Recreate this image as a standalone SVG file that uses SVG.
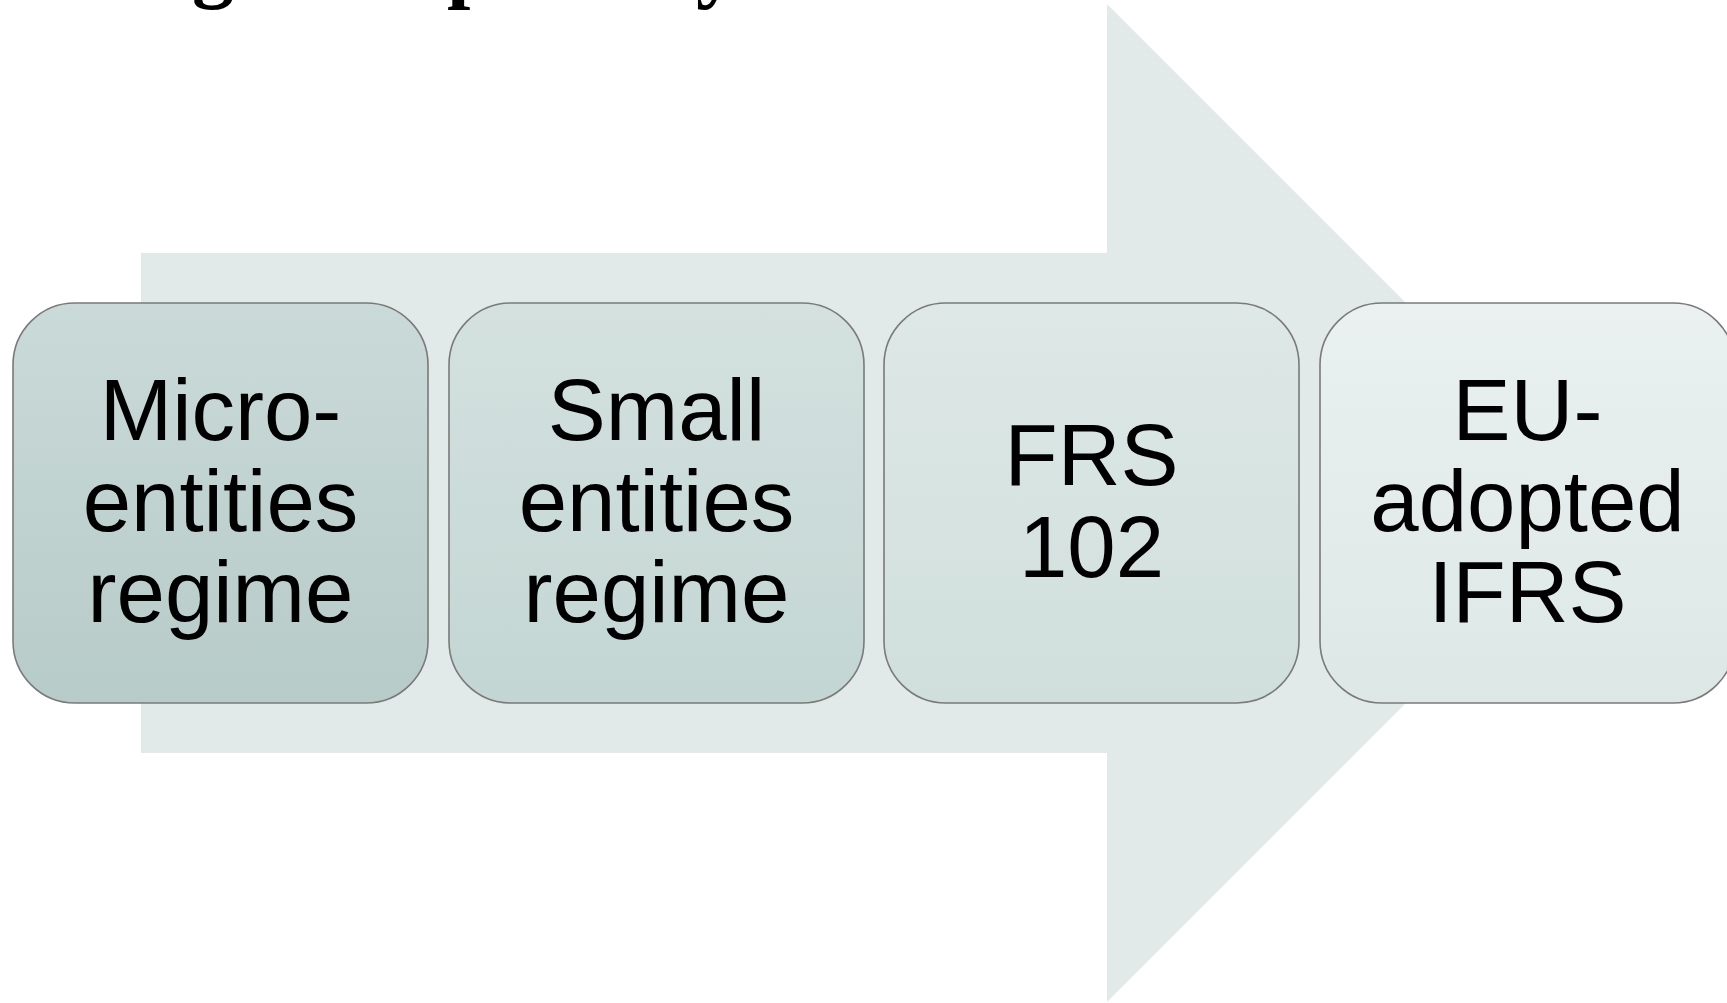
<svg xmlns="http://www.w3.org/2000/svg" width="1727" height="1003" viewBox="0 0 1727 1003">
  <style>
    .box { stroke: #7a7a7a; stroke-width: 1.6; }
    .label { font-family: "Liberation Sans", Arial, sans-serif; font-size: 87px; fill: #000; text-anchor: middle; }
    .heading { font-family: "Liberation Serif", "Times New Roman", serif; font-weight: bold; font-size: 84px; fill: #000; }
  </style>
  <defs>
    <linearGradient id="g1" x1="0" y1="0" x2="0" y2="1">
      <stop offset="0" stop-color="#cadad8"/>
      <stop offset="1" stop-color="#b7cbc8"/>
    </linearGradient>
    <linearGradient id="g2" x1="0" y1="0" x2="0" y2="1">
      <stop offset="0" stop-color="#d4e1df"/>
      <stop offset="1" stop-color="#c3d6d3"/>
    </linearGradient>
    <linearGradient id="g3" x1="0" y1="0" x2="0" y2="1">
      <stop offset="0" stop-color="#dee8e6"/>
      <stop offset="1" stop-color="#d0dfdc"/>
    </linearGradient>
    <linearGradient id="g4" x1="0" y1="0" x2="0" y2="1">
      <stop offset="0" stop-color="#eaf1f0"/>
      <stop offset="1" stop-color="#dde8e6"/>
    </linearGradient>
  </defs>

  <rect width="1727" height="1003" fill="#ffffff"/>

  <!-- heading line, clipped by the top edge -->
  <g id="heading">
    <text class="heading" x="192" y="-8">g</text>
    <text class="heading" x="447" y="-8">p</text>
    <text class="heading" x="696" y="-8">y</text>
  </g>

  <!-- background block arrow -->
  <g id="connectors">
    <polygon points="141,253 1107,253 1107,4 1606,503 1107,1002 1107,753 141,753" fill="#e1eae8"/>
  </g>

  <g id="node-micro">
    <rect class="box" x="13" y="303" width="415" height="400" rx="62" ry="62" fill="url(#g1)"/>
    <text class="label" x="220.5" y="440">Micro-</text>
    <text class="label" x="220.5" y="531">entities</text>
    <text class="label" x="220.5" y="622">regime</text>
  </g>

  <g id="node-small">
    <rect class="box" x="449" y="303" width="415" height="400" rx="62" ry="62" fill="url(#g2)"/>
    <text class="label" x="656.5" y="440">Small</text>
    <text class="label" x="656.5" y="531">entities</text>
    <text class="label" x="656.5" y="622">regime</text>
  </g>

  <g id="node-frs102">
    <rect class="box" x="884" y="303" width="415" height="400" rx="62" ry="62" fill="url(#g3)"/>
    <text class="label" x="1091.5" y="485">FRS</text>
    <text class="label" x="1091.5" y="577">102</text>
  </g>

  <g id="node-ifrs">
    <rect class="box" x="1320" y="303" width="415" height="400" rx="62" ry="62" fill="url(#g4)"/>
    <text class="label" x="1527.5" y="440">EU-</text>
    <text class="label" x="1527.5" y="531">adopted</text>
    <text class="label" x="1527.5" y="622">IFRS</text>
  </g>
</svg>
